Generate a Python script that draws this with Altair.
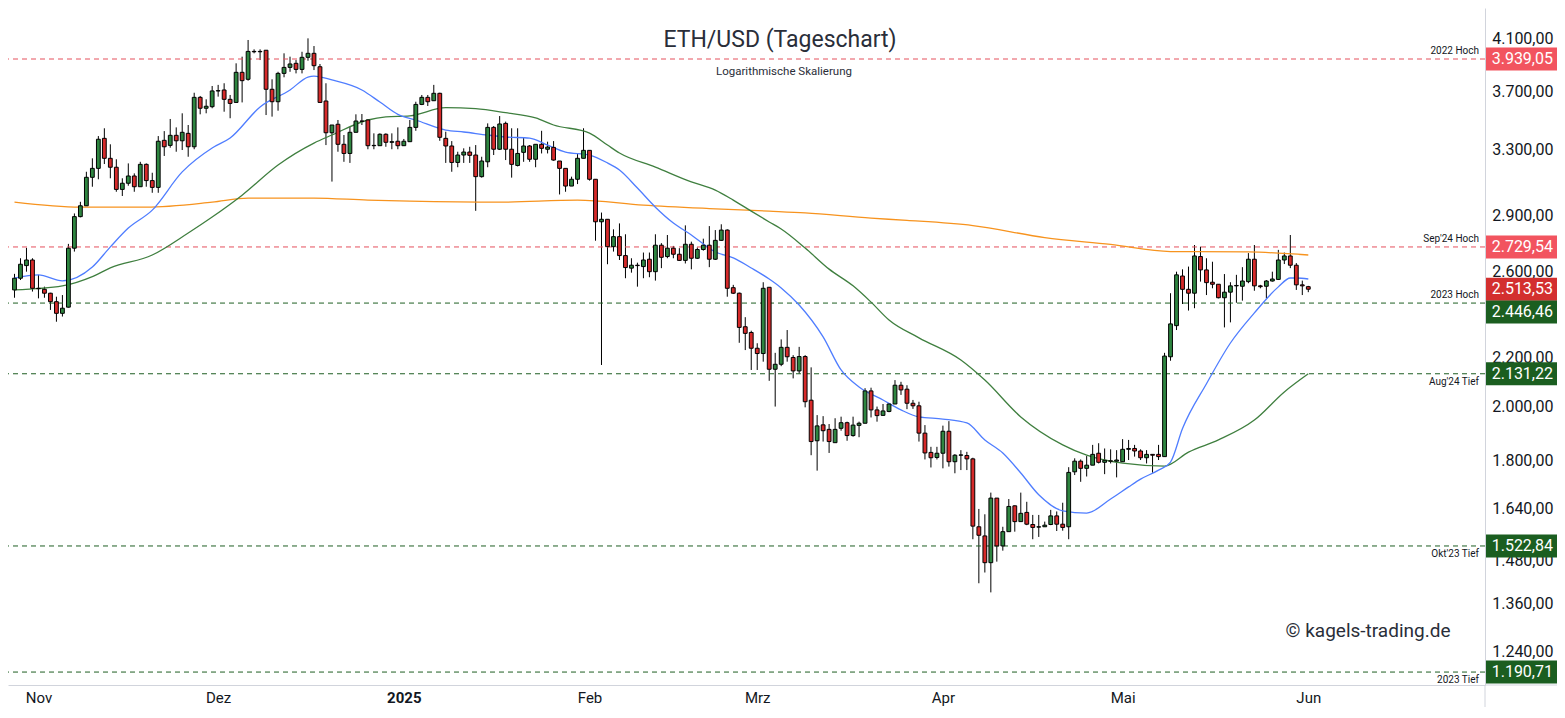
import altair as alt
import pandas as pd

# ---------------- data ----------------
first_day = "2024-10-28"   # one candle per calendar day

opens = [2510,2568,2632,2661,2518,2513,2494,2453,2398,2427,
         2723,2896,2958,3127,3182,3374,3245,3189,3054,3091,
         3135,3070,3207,3107,3066,3361,3328,3394,3358,3407,
         3319,3655,3578,3589,3701,3708,3641,3619,3838,3786,
         3998,3995,4007,3713,3624,3830,3875,3906,3860,3952,
         3983,3880,3629,3411,3468,3335,3276,3414,3490,3497,
         3326,3326,3401,3348,3355,3326,3352,3447,3605,3655,
         3631,3684,3374,3324,3219,3266,3285,3266,3131,3223,
         3447,3303,3474,3303,3200,3283,3324,3239,3335,3303,
         3315,3228,3182,3074,3115,3245,3296,3115,2867,2881,
         2731,2785,2684,2619,2634,2627,2665,2601,2739,2679,
         2723,2691,2659,2744,2670,2716,2739,2665,2765,2821,
         2521,2494,2336,2310,2240,2217,2523,2150,2171,2244,
         2200,2143,2204,2024,1870,1929,1912,1863,1916,1937,
         1889,1927,1935,2061,1986,1965,1980,2009,2084,2068,
         2012,2002,1898,1828,1810,1825,1905,1795,1818,1817,
         1805,1581,1553,1474,1672,1523,1566,1647,1597,1626,
         1588,1580,1581,1588,1615,1589,1581,1760,1797,1772,
         1783,1825,1793,1798,1797,1795,1839,1842,1833,1809,
         1821,1821,1813,2203,2341,2579,2513,2494,2679,2610,
         2548,2538,2472,2499,2530,2528,2551,2665,2530,2528,
         2554,2562,2661,2682,2634,2535,2526]

highs = [2590,2670,2725,2670,2585,2526,2496,2477,2485,2746,
         2914,2981,3161,3245,3389,3441,3335,3239,3121,3213,
         3151,3223,3213,3155,3389,3422,3504,3447,3543,3463,
         3688,3665,3641,3737,3745,3757,3672,3906,3957,4088,
         4014,4014,4007,3786,3842,3983,3957,3931,3995,4101,
         4040,3901,3757,3463,3497,3396,3451,3536,3538,3502,
         3407,3407,3407,3407,3447,3370,3497,3624,3672,3672,
         3745,3688,3418,3356,3287,3309,3319,3330,3255,3474,
         3456,3524,3486,3441,3441,3381,3330,3335,3424,3352,
         3356,3228,3182,3131,3272,3441,3296,3115,2919,2881,
         2825,2858,2798,2670,2647,2700,2700,2798,2750,2794,
         2735,2723,2847,2758,2727,2774,2843,2821,2853,2825,
         2535,2497,2380,2318,2262,2548,2523,2220,2279,2321,
         2210,2246,2210,2158,1966,1962,1932,1954,1960,1941,
         1960,1941,2072,2074,1999,2009,2012,2105,2098,2084,
         2025,2018,1928,1848,1848,1926,1943,1822,1836,1830,
         1809,1637,1620,1690,1672,1581,1669,1648,1690,1660,
         1618,1618,1597,1634,1629,1657,1776,1807,1803,1815,
         1855,1861,1842,1839,1836,1876,1873,1855,1839,1836,
         1822,1855,2220,2494,2601,2613,2627,2740,2731,2670,
         2652,2538,2589,2548,2585,2624,2697,2740,2535,2559,
         2601,2714,2700,2794,2645,2556,2530]

lows = [2472,2559,2601,2502,2469,2472,2414,2359,2383,2425,
        2705,2892,2958,3070,3115,3209,3121,3040,3015,3076,
        3040,3070,3070,3034,3034,3260,3313,3287,3298,3255,
        3303,3536,3543,3578,3660,3554,3509,3619,3619,3776,
        3983,3931,3531,3520,3561,3801,3842,3830,3830,3926,
        3855,3619,3330,3101,3287,3223,3216,3414,3463,3303,
        3303,3324,3319,3303,3303,3324,3352,3424,3600,3594,
        3631,3358,3216,3161,3189,3216,3216,2929,3125,3189,
        3266,3298,3234,3125,3194,3223,3223,3189,3276,3276,
        3230,3024,3040,3074,3086,3245,3107,2763,2168,2639,
        2705,2661,2568,2596,2526,2568,2573,2556,2619,2670,
        2670,2657,2643,2613,2666,2710,2624,2661,2762,2477,
        2490,2264,2232,2147,2147,2182,2102,1999,2163,2182,
        2112,2132,1996,1818,1764,1867,1826,1863,1907,1870,
        1885,1883,1935,1957,1941,1964,1977,2009,2045,1989,
        1990,1867,1803,1775,1803,1772,1778,1755,1766,1766,
        1543,1416,1446,1391,1477,1509,1566,1566,1597,1586,
        1543,1550,1581,1586,1568,1569,1543,1749,1726,1744,
        1783,1789,1752,1789,1741,1795,1801,1813,1801,1789,
        1757,1801,1813,2186,2321,2442,2411,2422,2551,2485,
        2518,2469,2333,2356,2448,2458,2543,2506,2518,2469,
        2551,2559,2640,2619,2510,2485,2499]

closes = [2568,2639,2661,2518,2516,2494,2453,2398,2422,2723,
          2896,2958,3127,3182,3368,3245,3189,3054,3091,3135,
          3070,3207,3107,3066,3355,3319,3394,3358,3414,3319,
          3655,3578,3592,3701,3703,3641,3612,3838,3776,3998,
          3995,3998,3713,3624,3830,3875,3901,3860,3952,3983,
          3888,3619,3411,3463,3335,3276,3414,3490,3488,3326,
          3328,3401,3348,3352,3326,3355,3447,3605,3655,3624,
          3684,3381,3324,3219,3266,3285,3264,3131,3228,3447,
          3303,3470,3303,3207,3276,3324,3239,3335,3309,3317,
          3234,3182,3074,3115,3245,3296,3115,2867,2881,2731,
          2785,2684,2622,2634,2632,2661,2601,2739,2675,2723,
          2691,2659,2744,2670,2716,2739,2665,2765,2821,2518,
          2494,2333,2306,2240,2217,2518,2150,2171,2244,2203,
          2143,2204,2018,1867,1925,1907,1867,1912,1937,1889,
          1928,1935,2061,1986,1964,1982,2009,2084,2065,2012,
          2002,1898,1826,1809,1825,1905,1795,1818,1819,1805,
          1583,1555,1474,1672,1523,1566,1645,1597,1623,1589,
          1579,1581,1586,1615,1589,1579,1758,1797,1772,1783,
          1821,1793,1800,1797,1801,1839,1842,1833,1809,1821,
          1818,1813,2206,2349,2585,2513,2494,2682,2610,2546,
          2538,2472,2499,2530,2532,2554,2665,2530,2526,2554,
          2564,2661,2682,2634,2535,2530,2513.53]

# moving averages
ma20_dates = ["2024-10-28","2024-11-01","2024-11-05","2024-11-10","2024-11-13","2024-11-16","2024-11-20",
              "2024-11-25","2024-11-30","2024-12-03","2024-12-08","2024-12-13","2024-12-16","2024-12-17",
              "2024-12-20","2024-12-25","2024-12-28","2024-12-31","2025-01-03","2025-01-08","2025-01-11",
              "2025-01-15","2025-01-18","2025-01-22","2025-01-25","2025-01-28","2025-02-01","2025-02-04",
              "2025-02-06","2025-02-09","2025-02-12","2025-02-15","2025-02-18","2025-02-22","2025-02-25",
              "2025-02-28","2025-03-03","2025-03-05","2025-03-08","2025-03-12","2025-03-15","2025-03-18",
              "2025-03-22","2025-03-25","2025-03-28","2025-04-01","2025-04-05","2025-04-08","2025-04-11",
              "2025-04-14","2025-04-17","2025-04-21","2025-04-25","2025-04-29","2025-05-02","2025-05-04",
              "2025-05-07","2025-05-09","2025-05-11","2025-05-15","2025-05-19","2025-05-23","2025-05-27",
              "2025-05-29","2025-05-30","2025-06-01"]
ma20_vals = [2569,2585,2555,2625,2730,2832,2933,
             3160,3311,3376,3587,3708,3803,3810,
             3781,3708,3622,3536,3497,3429,3416,
             3396,3383,3376,3330,3285,3266,3216,
             3172,3062,2950,2860,2794,2703,2672,
             2620,2564,2520,2437,2290,2147,2077,
             2025,1986,1959,1951,1936,1873,1826,
             1756,1683,1631,1624,1669,1709,1735,
             1766,1794,1915,2090,2263,2400,2525,
             2569,2569,2564]

ma50_dates = ["2024-10-28","2024-11-05","2024-11-10","2024-11-13","2024-11-20","2024-11-26","2024-11-30",
              "2024-12-05","2024-12-11","2024-12-17","2024-12-20","2024-12-26","2024-12-29","2025-01-02",
              "2025-01-08","2025-01-13","2025-01-18","2025-01-23","2025-01-26","2025-02-01","2025-02-04",
              "2025-02-06","2025-02-12","2025-02-18","2025-02-22","2025-02-25","2025-02-28","2025-03-03",
              "2025-03-05","2025-03-09","2025-03-13","2025-03-17","2025-03-20","2025-03-23","2025-03-28",
              "2025-04-04","2025-04-08","2025-04-14","2025-04-21","2025-04-25","2025-05-01","2025-05-08",
              "2025-05-12","2025-05-17","2025-05-23","2025-05-28","2025-06-01"]
ma50_vals = [2510,2530,2576,2620,2687,2805,2894,
             3020,3203,3343,3396,3497,3518,3525,
             3582,3575,3547,3511,3463,3409,3330,
             3279,3190,3099,3050,2991,2927,2866,
             2827,2724,2614,2530,2451,2367,2286,
             2189,2105,1959,1855,1818,1790,1780,
             1829,1873,1947,2057,2131]

ma200_dates = ["2024-10-28","2024-11-08","2024-11-19","2024-11-30","2024-12-06","2024-12-17","2024-12-26",
               "2025-01-02","2025-01-17","2025-01-30","2025-02-10","2025-02-21","2025-03-03","2025-03-09",
               "2025-03-20","2025-03-26","2025-04-06","2025-04-18","2025-04-29","2025-05-09","2025-05-13",
               "2025-05-22","2025-06-01"]
ma200_vals = [2979,2950,2950,2979,3003,3003,2991,
              2985,2979,2991,2962,2942,2927,2917,
              2887,2875,2846,2780,2743,2705,2705,
              2703,2687]

# horizontal levels
level_values = [3939.05, 2729.54, 2446.46, 2131.22, 1522.84, 1190.71]
level_names = ["2022 Hoch", "Sep'24 Hoch", "2023 Hoch", "Aug'24 Tief", "Okt'23 Tief", "2023 Tief"]
level_side = ["above", "above", "above", "below", "below", "below"]
level_colors = ["#e5505c", "#e5505c", "#1e5e22", "#1e5e22", "#1e5e22", "#1e5e22"]
level_box_colors = ["#f2545f", "#f2545f", "#1b5e20", "#1b5e20", "#1b5e20", "#1b5e20"]
last_close = 2513.53
last_close_color = "#d32f2f"

price_ticks = [4100, 3700, 3300, 2900, 2600, 2200, 2000, 1800, 1640, 1480, 1360, 1240]
month_ticks = ["2024-11-01", "2024-12-01", "2025-01-01", "2025-02-01",
               "2025-03-01", "2025-04-01", "2025-05-01", "2025-06-01"]

# ---------------- chart ----------------
W, H = 1477, 677
FONT = "Roboto"
GREEN = "#2e8540"
RED = "#d62a2a"
TXT = "#131722"
GRID = "#d1d4dc"


def ms(s):
    return int(pd.Timestamp(s, tz="UTC").value // 10**6)


def de_fmt(v):
    s = f"{v:,.2f}"
    return s.replace(",", "X").replace(".", ",").replace("X", ".")


dates = [d.strftime("%Y-%m-%d") for d in pd.date_range(first_day, periods=len(opens), freq="D")]
candles = pd.DataFrame({"date": dates, "open": opens, "high": highs, "low": lows, "close": closes})

x_scale = alt.Scale(type="utc", domain=[ms("2024-10-27 18:00"), ms("2025-06-29 16:00")])
y_scale = alt.Scale(type="log", domain=[1161.0, 4351.3], nice=False, zero=False)

x_axis = alt.Axis(
    values=[ms(d) for d in month_ticks],
    labelExpr="utcmonth(datum.value) == 0 ? '' + utcyear(datum.value) : "
              "['Jan','Feb','Mrz','Apr','Mai','Jun','Jul','Aug','Sep','Okt','Nov','Dez'][utcmonth(datum.value)]",
    labelFontWeight={"condition": {"test": "utcmonth(datum.value) == 0", "value": "bold"}, "value": "normal"},
    title=None, grid=False, ticks=False, tickSize=0, labelPadding=12, labelBaseline="middle",
    labelFont=FONT, labelFontSize=15, labelColor=TXT, domainColor=GRID, labelOverlap=False,
    labelFlush=False,
)
y_axis = alt.Axis(
    orient="right", values=price_ticks,
    labelExpr="replace(replace(replace(format(datum.value, ',.2f'), ',', '#'), '.', ','), '#', '.')",
    title=None, grid=False, ticks=False, tickSize=0, labelAlign="right", labelPadding=68,
    labelFont=FONT, labelFontSize=16, labelColor=TXT, domainColor=GRID, labelOverlap=False,
)


def Xe(field="date:T"):
    return alt.X(field, scale=x_scale, axis=x_axis)


def Ye(field):
    return alt.Y(field, scale=y_scale, axis=y_axis)


base = alt.Chart(candles)
wicks = base.mark_rule(color="#000000", strokeWidth=1, clip=True).encode(
    x=Xe(), y=Ye("low:Q"), y2="high:Q")
bodies = base.mark_bar(size=3.8, stroke="#000000", strokeWidth=1, opacity=1, clip=True).encode(
    x=Xe(), y=Ye("open:Q"), y2="close:Q",
    color=alt.condition("datum.close >= datum.open", alt.value(GREEN), alt.value(RED)))


def ma_layer(ds, vs, color):
    df = pd.DataFrame({"date": ds, "v": vs})
    return alt.Chart(df).mark_line(color=color, strokeWidth=1.3, interpolate="monotone", clip=True).encode(
        x=Xe(), y=Ye("v:Q"))


ma200 = ma_layer(ma200_dates, ma200_vals, "#f7931e")
ma50 = ma_layer(ma50_dates, ma50_vals, "#3f7f3f")
ma20 = ma_layer(ma20_dates, ma20_vals, "#4f7dff")

levels = pd.DataFrame({"value": level_values, "name": level_names, "side": level_side,
                       "color": level_colors})
level_rules = alt.Chart(levels).mark_rule(strokeDash=[5, 4], strokeWidth=1).encode(
    y=Ye("value:Q"), color=alt.Color("color:N", scale=None))
level_above = alt.Chart(levels).transform_filter("datum.side == 'above'").mark_text(
    align="right", baseline="middle", dy=-8, font=FONT, fontSize=10, color=TXT).encode(
    x=alt.value(W - 6), y=Ye("value:Q"), text="name:N")
level_below = alt.Chart(levels).transform_filter("datum.side == 'below'").mark_text(
    align="right", baseline="middle", dy=8, font=FONT, fontSize=10, color=TXT).encode(
    x=alt.value(W - 6), y=Ye("value:Q"), text="name:N")

# price boxes on the right-hand scale
box_vals = level_values + [last_close]
boxes = pd.DataFrame({
    "value": box_vals,
    "label": [de_fmt(v) for v in box_vals],
    "color": level_box_colors + [last_close_color],
    "shift": [0, 0, 9, 0, 0, 0, 0],
})
box_plain = alt.Chart(boxes).transform_filter("datum.shift == 0")
box_shift = alt.Chart(boxes).transform_filter("datum.shift != 0")
box_rect = box_plain.mark_rule(strokeWidth=23, strokeCap="butt").encode(
    x=alt.value(W + 1), x2=alt.value(W + 72), y=Ye("value:Q"), color=alt.Color("color:N", scale=None))
box_rect2 = box_shift.mark_rule(strokeWidth=23, strokeCap="butt", yOffset=9).encode(
    x=alt.value(W + 1), x2=alt.value(W + 72), y=Ye("value:Q"), color=alt.Color("color:N", scale=None))
box_text = box_plain.mark_text(align="right", baseline="middle", font=FONT, fontSize=16, color="white").encode(
    x=alt.value(W + 68), y=Ye("value:Q"), text="label:N")
box_text2 = box_shift.mark_text(align="right", baseline="middle", dy=9, font=FONT, fontSize=16,
                                color="white").encode(x=alt.value(W + 68), y=Ye("value:Q"), text="label:N")

# frame pieces continuing below the price scale
frame_h = alt.Chart(pd.DataFrame({"a": [0]})).mark_rule(color=GRID, strokeWidth=1).encode(
    x=alt.value(W), x2=alt.value(W + 72), y=alt.value(H))
frame_v = alt.Chart(pd.DataFrame({"a": [0]})).mark_rule(color=GRID, strokeWidth=1).encode(
    x=alt.value(W), y=alt.value(H), y2=alt.value(H + 22))

title = alt.Chart(pd.DataFrame({"t": ["ETH/USD (Tageschart)"]})).mark_text(
    font=FONT, fontSize=23, color="#2a2e39", baseline="middle").encode(
    text="t:N", x=alt.value(772), y=alt.value(32))
sub = alt.Chart(pd.DataFrame({"t": ["Logarithmische Skalierung"]})).mark_text(
    font=FONT, fontSize=11.5, color="#2a2e39", baseline="middle").encode(
    text="t:N", x=alt.value(776), y=alt.value(64))
copy = alt.Chart(pd.DataFrame({"t": ["© kagels-trading.de"]})).mark_text(
    font=FONT, fontSize=19, color="#2a2e39", baseline="middle").encode(
    text="t:N", x=alt.value(1360), y=alt.value(623))

chart = alt.layer(
    wicks, level_rules, ma200, ma50, ma20, bodies, level_above, level_below,
    box_rect, box_rect2, box_text, box_text2, frame_h, frame_v, title, sub, copy,
).properties(
    width=W, height=H,
    autosize=alt.AutoSizeParams(type="none"),
    padding={"left": 0, "top": 0, "right": 72, "bottom": 22},
    background="white",
).configure_view(strokeWidth=0)

chart.save("out.html", embed_options={"renderer": "svg", "actions": False})
